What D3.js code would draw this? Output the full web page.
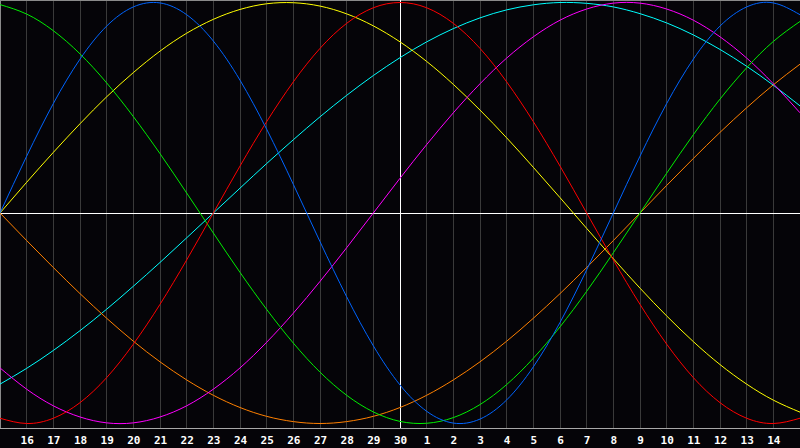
<!DOCTYPE html>
<html lang="en">
<head>
<meta charset="UTF-8">
<title>Biorhythm</title>
<style>
  html, body { margin: 0; padding: 0; background: #050408; }
  svg { display: block; }
  .day text { fill: #ffffff; font-family: "DejaVu Sans Mono", monospace; font-weight: bold; font-size: 11px; }
  .curve { fill: none; stroke-width: 1; }
</style>
</head>
<body>
<div id="chart"></div>
<script src="https://d3js.org/d3.v7.min.js"></script>
<script>
// day labels for the 29 inner grid lines (day 1 .. day 29 of the window)
var dayLabels = ["16","17","18","19","20","21","22","23","24","25","26","27","28","29","30",
                 "1","2","3","4","5","6","7","8","9","10","11","12","13","14"];
var today = 15; // position of the white "today" line

// daily values (percent), day 0 .. day 30 of the window
var physical     = [0,27.0,52.0,73.1,88.8,97.9,99.8,94.2,81.7,63.1,39.8,13.6,-13.6,-39.8,-63.1,-81.7,-94.2,-99.8,-97.9,-88.8,-73.1,-52.0,-27.0,0,27.0,52.0,73.1,88.8,97.9,99.8,94.2];
var emotional    = [-97.5,-100,-97.5,-90.1,-78.2,-62.3,-43.4,-22.3,0,22.3,43.4,62.3,78.2,90.1,97.5,100,97.5,90.1,78.2,62.3,43.4,22.3,0,-22.3,-43.4,-62.3,-78.2,-90.1,-97.5,-100,-97.5];
var intellectual = [99.0,94.5,86.6,75.6,61.8,45.8,28.2,9.5,-9.5,-28.2,-45.8,-61.8,-75.6,-86.6,-94.5,-99.0,-99.9,-97.2,-91.0,-81.5,-69.0,-54.1,-37.2,-18.9,0,18.9,37.2,54.1,69.0,81.5,91.0];
var intuitive    = [-73.6,-83.7,-91.6,-96.9,-99.7,-99.7,-96.9,-91.6,-83.7,-73.6,-61.4,-47.6,-32.5,-16.5,0,16.5,32.5,47.6,61.4,73.6,83.7,91.6,96.9,99.7,99.7,96.9,91.6,83.7,73.6,61.4,47.6];
var aesthetic    = [0,14.6,28.8,42.4,55.2,66.7,76.9,85.4,92.0,96.7,99.4,99.9,98.3,94.6,88.9,81.3,72.0,61.1,48.9,35.7,21.7,7.3,-7.3,-21.7,-35.7,-48.9,-61.1,-72.0,-81.3,-88.9,-94.6];
var awareness    = [0,-13.1,-25.9,-38.3,-50.0,-60.9,-70.7,-79.3,-86.6,-92.4,-96.6,-99.1,-100,-99.1,-96.6,-92.4,-86.6,-79.3,-70.7,-60.9,-50.0,-38.3,-25.9,-13.1,0,13.1,25.9,38.3,50.0,60.9,70.7];
var spiritual    = [-81.3,-73.8,-65.3,-55.9,-45.7,-34.8,-23.5,-11.8,0,11.8,23.5,34.8,45.7,55.9,65.3,73.8,81.3,87.6,92.7,96.5,98.9,100.0,99.6,97.9,94.7,90.3,84.6,77.7,69.7,60.7,50.9];

var series = [
  { name: "spiritual",    values: spiritual,    color: "#00ffff" },
  { name: "awareness",    values: awareness,    color: "#ff8000" },
  { name: "aesthetic",    values: aesthetic,    color: "#ffff00" },
  { name: "intuitive",    values: intuitive,    color: "#ff00ff" },
  { name: "intellectual", values: intellectual, color: "#00ee00" },
  { name: "emotional",    values: emotional,    color: "#ff0000" },
  { name: "physical",     values: physical,     color: "#0064ff" }
];

var width = 800, height = 448;
var plotBottom = 428;

var svg = d3.select("#chart").append("svg")
  .attr("width", width).attr("height", height);

svg.append("rect").attr("width", width).attr("height", height).attr("fill", "#050408");

var xScale = d3.scaleLinear().domain([0, 30]).range([0, width]);
var yScale = d3.scaleLinear().domain([-100, 100]).range([423.5, 2.5]);

function px(t) { return Math.floor(xScale(t)) + 0.5; }

// vertical day grid
svg.append("g").selectAll("line")
  .data(d3.range(1, 30))
  .enter().append("line")
  .attr("x1", px).attr("x2", px)
  .attr("y1", 0).attr("y2", plotBottom)
  .attr("stroke", "#3a3a3a");

// frame
svg.append("line").attr("x1", 0.5).attr("x2", 0.5).attr("y1", 0).attr("y2", plotBottom).attr("stroke", "#8a8a8a");
svg.append("line").attr("x1", 0).attr("x2", width).attr("y1", 0.5).attr("y2", 0.5).attr("stroke", "#8a8a8a");
svg.append("line").attr("x1", 0).attr("x2", width).attr("y1", plotBottom + 0.5).attr("y2", plotBottom + 0.5).attr("stroke", "#a8a8a8");

// zero line and today line
var zeroY = Math.floor(yScale(0)) + 0.5;
svg.append("line").attr("x1", 0).attr("x2", width).attr("y1", zeroY).attr("y2", zeroY).attr("stroke", "#ffffff");
svg.append("line").attr("x1", px(today)).attr("x2", px(today)).attr("y1", 0).attr("y2", plotBottom).attr("stroke", "#ffffff");

// curves
var line = d3.line()
  .x(function(d, i) { return xScale(i); })
  .y(function(d) { return yScale(d); })
  .curve(d3.curveNatural);

svg.append("g").selectAll("path")
  .data(series)
  .enter().append("path")
  .attr("class", "curve")
  .attr("d", function(s) { return line(s.values); })
  .attr("stroke", function(s) { return s.color; });

// day labels
var axis = svg.append("g")
  .attr("class", "day")
  .attr("transform", "translate(0," + plotBottom + ")")
  .call(d3.axisBottom(xScale)
    .tickValues(d3.range(1, 30))
    .tickFormat(function(d) { return dayLabels[d - 1]; })
    .tickSize(0)
    .tickPadding(6));
axis.select(".domain").remove();
axis.selectAll("text").attr("dy", "0.95em");
</script>
</body>
</html>
